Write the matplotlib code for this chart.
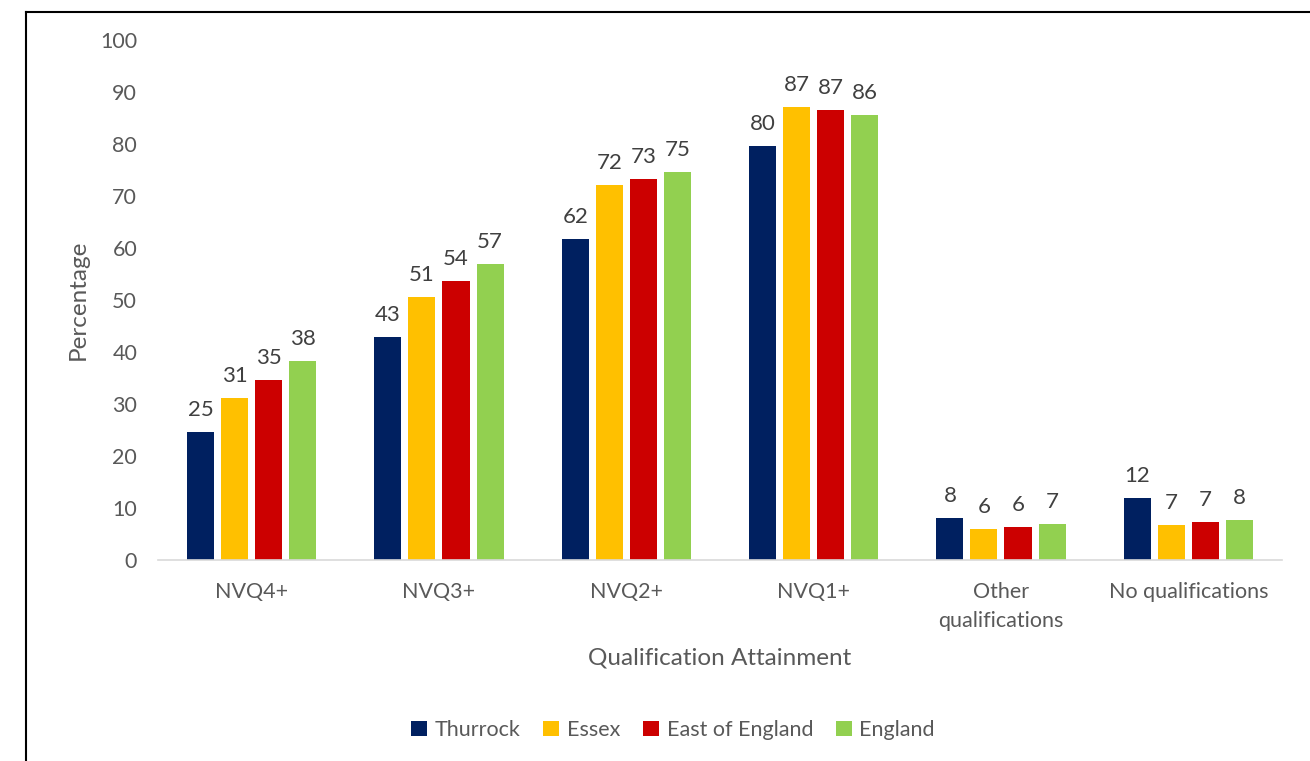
import numpy as np
import matplotlib.pyplot as plt
from matplotlib.lines import Line2D

categories = ["NVQ4+", "NVQ3+", "NVQ2+", "NVQ1+", "Other\nqualifications", "No qualifications"]
series_names = ["Thurrock", "Essex", "East of England", "England"]
colors = ["#002060", "#FFC000", "#CC0000", "#92D050"]

# bar heights; labels show the rounded values
thurrock = [24.6, 42.9, 61.8, 79.7, 8.1, 11.9]
essex = [31.2, 50.6, 72.2, 87.2, 6.0, 6.7]
east_of_england = [34.7, 53.7, 73.2, 86.6, 6.3, 7.3]
england = [38.3, 57.0, 74.6, 85.5, 6.9, 7.7]
all_series = [thurrock, essex, east_of_england, england]

plt.rcParams['font.family'] = ['Lato', 'DejaVu Sans']

fig = plt.figure(figsize=(13.1, 7.61), dpi=100)
ax = fig.add_axes([0.1206, 0.2641, 0.858, 0.6833])

x = np.arange(len(categories))
pitch = 34 / 187
width = 27 / 187
for i, (vals, name, col) in enumerate(zip(all_series, series_names, colors)):
    pos = x + (i - 1.5) * pitch
    bars = ax.bar(pos, vals, width, color=col, label=name)
    for b, v in zip(bars, vals):
        ax.text(b.get_x() + b.get_width() / 2, v + 2.3, f"{round(v)}",
                ha='center', va='bottom', fontsize=16, color='#404040')

ax.set_xlim(-0.5, len(categories) - 0.5)
ax.set_ylim(0, 100)
ax.set_yticks(range(0, 101, 10))
ax.set_xticks(x)
ax.set_xticklabels(categories, linespacing=1.55)
ax.tick_params(axis='both', length=0, labelsize=15.5, colors='#595959')
ax.tick_params(axis='y', pad=15)
ax.tick_params(axis='x', pad=16)
for s in ['top', 'right', 'left']:
    ax.spines[s].set_visible(False)
ax.spines['bottom'].set_color('#D9D9D9')
ax.spines['bottom'].set_linewidth(1.2)

fig.text(78 / 1310, 1 - 300 / 761, "Percentage", rotation=90, ha='center', va='center',
         fontsize=17.5, color='#595959')
fig.text(720 / 1310, 1 - 658 / 761, "Qualification Attainment", ha='center', va='center',
         fontsize=17.5, color='#595959')

leg = fig.legend(loc='center', bbox_to_anchor=(673 / 1310, 1 - 730 / 761), ncol=4,
                 frameon=False, fontsize=15.5, handlelength=0.75, handleheight=0.75,
                 handletextpad=0.35, columnspacing=1.05)
for t in leg.get_texts():
    t.set_color('#595959')

# outer frame (only top and left edges are visible in the crop)
fig.add_artist(Line2D([26 / 1310, 26 / 1310], [0, 1 - 12 / 761], color='black', lw=1.5))
fig.add_artist(Line2D([26 / 1310, 1], [1 - 12 / 761, 1 - 12 / 761], color='black', lw=1.5))

fig.savefig("out.png", dpi=100)
